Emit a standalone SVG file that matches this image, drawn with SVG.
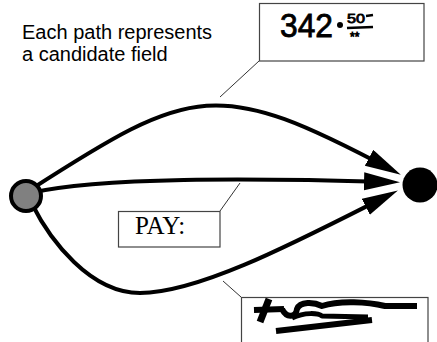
<svg xmlns="http://www.w3.org/2000/svg" width="437" height="342" viewBox="0 0 437 342">
<style>
.edge{fill:none;stroke:#000;stroke-width:4;}
.lead{fill:none;stroke:#333;stroke-width:1;}
.box{fill:#fff;stroke:#444;stroke-width:1.2;}
.cap{font-family:"Liberation Sans",Arial,sans-serif;font-size:20px;fill:#000;}
.pay{font-family:"Liberation Serif","Times New Roman",serif;font-size:25px;fill:#000;}
.hand{font-family:"Liberation Sans",Arial,sans-serif;fill:#000;stroke:#000;stroke-width:0.8;}
.sig{fill:none;stroke:#000;stroke-linecap:butt;stroke-linejoin:round;}
</style>
<defs>
<marker id="arr" markerUnits="userSpaceOnUse" markerWidth="40" markerHeight="20" refX="26" refY="9" orient="auto">
<path d="M0,0 L36,9 L0,18 z" fill="#000"/>
</marker>
</defs>
<rect width="437" height="342" fill="#fff"/>
<g id="caption">
<text class="cap" x="22" y="39">Each path represents</text>
<text class="cap" x="22" y="61">a candidate field</text>
</g>
<g id="connectors">
<path class="edge" marker-end="url(#arr)" d="M30,190 C193,85 217,77 392,170"/>
<path class="edge" marker-end="url(#arr)" d="M30,193 C100,177 250,178 390,182"/>
<path class="edge" marker-end="url(#arr)" d="M32,204 C50,240 90,293 140,293 C200,293 300,240 389,195"/>
<line class="lead" x1="259" y1="61" x2="220" y2="97"/>
<line class="lead" x1="220" y1="211" x2="240" y2="183"/>
<line class="lead" x1="241" y1="297" x2="223" y2="281"/>
</g>
<g id="source">
<circle cx="26" cy="196" r="15" fill="#808080" stroke="#000" stroke-width="4"/>
</g>
<g id="sink">
<circle cx="420" cy="185" r="17.5" fill="#000"/>
</g>
<g id="amount">
<rect class="box" x="259.5" y="3.5" width="164.5" height="57.5"/>
<text class="hand" x="280" y="37" font-size="34" textLength="53" lengthAdjust="spacingAndGlyphs">342</text>
<circle cx="340" cy="25" r="3" fill="#000"/>
<text class="hand" x="347" y="23" font-size="13" stroke-width="0.8" textLength="18" lengthAdjust="spacingAndGlyphs">50</text>
<line x1="366" y1="16" x2="373" y2="15" stroke="#000" stroke-width="2.5"/>
<line x1="347" y1="28" x2="373" y2="27" stroke="#000" stroke-width="2.5"/>
<text class="hand" x="350" y="41" font-size="12" stroke-width="0.8">**</text>
</g>
<g id="pay">
<rect class="box" x="118.5" y="211.5" width="101.5" height="35.5"/>
<text class="pay" x="135" y="234">PAY:</text>
</g>
<g id="signature">
<rect class="box" x="241.5" y="297.5" width="186.5" height="50"/>
<path class="sig" stroke-width="6" d="M254,310 L284,309"/>
<path class="sig" stroke-width="7" d="M269,299 L260,322"/>
<path class="sig" stroke-width="6" d="M282,309 C287,319 296,317 297,309 C300,301 314,302 322,306 C340,300 368,302 385,306 L417,306"/>
<path class="sig" stroke-width="5" d="M292,318 C305,312 318,313 322,316 L368,317"/>
<path class="sig" stroke-width="6" d="M276,331 L372,320"/>
</g>
</svg>
